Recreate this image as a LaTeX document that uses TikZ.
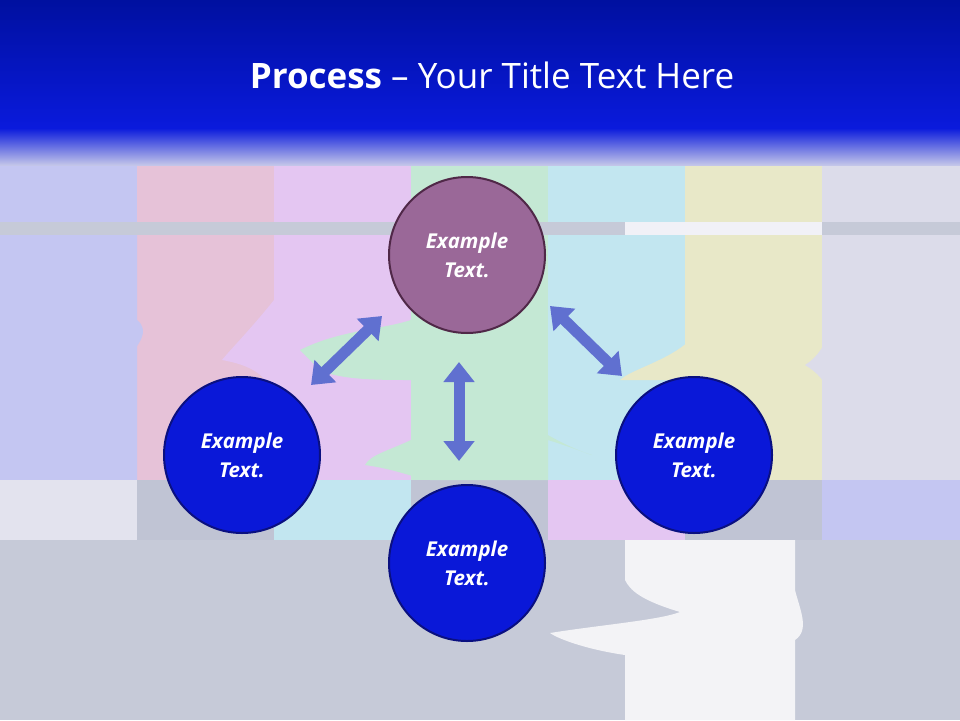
\documentclass[tikz,border=0pt]{standalone}
\usepackage{fontspec}
\setmainfont{Open Sans}
\usetikzlibrary{arrows.meta}
\definecolor{topb}{HTML}{0010A0}
\definecolor{midb}{HTML}{0A1ADC}
\definecolor{cA}{HTML}{C4C6F2}
\definecolor{cB}{HTML}{E6C2D8}
\definecolor{cC}{HTML}{E4C6F2}
\definecolor{cD}{HTML}{C4E8D4}
\definecolor{cE}{HTML}{C2E6F0}
\definecolor{cF}{HTML}{E8E8C8}
\definecolor{cG}{HTML}{DCDCEA}
\definecolor{grayb}{HTML}{C0C4D4}
\definecolor{purp}{HTML}{9A6898}
\definecolor{purpd}{HTML}{502848}
\definecolor{blu}{HTML}{0A18D8}
\definecolor{blud}{HTML}{0A1080}
\definecolor{arr}{HTML}{6070D0}
\tikzset{
  circ/.style={circle,minimum size=156pt,line width=2pt,inner sep=0pt,align=center,text=white,font=\fontsize{20.5}{29}\selectfont\bfseries\itshape},
  dbl/.style={arr,line width=11pt,{Triangle[width=30pt,length=20pt]}-{Triangle[width=30pt,length=20pt]}}
}
\begin{document}
\begin{tikzpicture}[x=1pt,y=-1pt]
\useasboundingbox (0,0) rectangle (960,720);
\fill[grayb] (0,0) rectangle (960,720);
\fill[cA] (0,165) rectangle (137,480);
\fill[cB] (137,165) rectangle (274,480);
\fill[cC] (274,152) rectangle (411,480);
\fill[cD] (411,165) rectangle (548,480);
\fill[cE] (548,152) rectangle (685,480);
\fill[cF] (685,165) rectangle (822,480);
\fill[cG] (822,165) rectangle (960,480);
\fill[cA] (137,235) -- (137,320) .. controls (150,330) and (140,345) .. (125,360) .. controls (140,370) and (135,380) .. (137,400) -- (137,480) -- (137,235);
\fill[cC] (274,300) .. controls (250,330) and (230,350) .. (222,360) .. controls (250,365) and (270,375) .. (274,400) -- (300,400) -- (300,300) -- cycle;
\fill[cD] (300,350) .. controls (340,330) and (380,330) .. (411,320) -- (411,440) .. controls (390,450) and (370,455) .. (365,465) .. controls (400,470) and (420,480) .. (430,480) -- (548,480) -- (548,440) .. controls (580,450) and (590,455) .. (592,455) .. controls (560,445) and (520,420) .. (500,400) -- (411,380) .. controls (380,380) and (340,380) .. (320,370) -- cycle;
\fill[cE] (548,310) .. controls (580,300) and (620,300) .. (630,330) .. controls (620,360) and (560,360) .. (548,360) -- cycle;
\fill[cF] (685,235) -- (685,290) .. controls (700,300) and (700,330) .. (690,340) .. controls (670,360) and (630,370) .. (620,380) -- (685,380) -- cycle;
\fill[cG] (822,290) .. controls (840,310) and (830,350) .. (805,365) .. controls (830,380) and (835,400) .. (822,420) -- (822,480) -- (960,480) -- (960,290) -- cycle;
\fill[cG!80!white] (0,480) rectangle (137,540);
\fill[cE] (274,480) rectangle (411,540);
\fill[cC] (548,480) rectangle (685,540);
\fill[cA] (822,480) rectangle (960,540);
\fill[grayb!90!white] (0,540) rectangle (960,720);
\fill[white!80!grayb] (625,540) -- (795,540) -- (795,590) .. controls (800,610) and (810,630) .. (795,640) .. controls (795,660) and (795,690) .. (795,720) -- (625,720) -- (625,655) .. controls (590,650) and (560,640) .. (550,633) .. controls (600,625) and (660,620) .. (680,612) .. controls (640,600) and (630,590) .. (625,580) -- cycle;
\fill[grayb!90!white] (0,222) rectangle (960,235);
\fill[white!60!cG] (625,222) rectangle (822,235);
\fill[top color=topb,bottom color=midb] (0,0) rectangle (960,128);
\fill[top color=midb,bottom color=cA!70!grayb] (0,128) rectangle (960,165);
\node[text=white,font=\fontsize{35}{42}\selectfont] (title) at (492,75) {\textbf{Process} – Your Title Text Here};
\node[circ,fill=purp,draw=purpd] (top) at (467,255) {Example\\Text.};
\node[circ,fill=blu,draw=blud] (left) at (242,455) {Example\\Text.};
\node[circ,fill=blu,draw=blud] (right) at (694,455) {Example\\Text.};
\node[circ,fill=blu,draw=blud] (bot) at (467,563) {Example\\Text.};
\coordinate (l1) at (311,385);
\coordinate (l2) at (382,316);
\coordinate (r1) at (550,306);
\coordinate (r2) at (622,376);
\coordinate (m1) at (459,362);
\coordinate (m2) at (459,461);
\draw[dbl] (l1) -- (l2);
\draw[dbl] (r1) -- (r2);
\draw[dbl] (m1) -- (m2);
\end{tikzpicture}
\end{document}
